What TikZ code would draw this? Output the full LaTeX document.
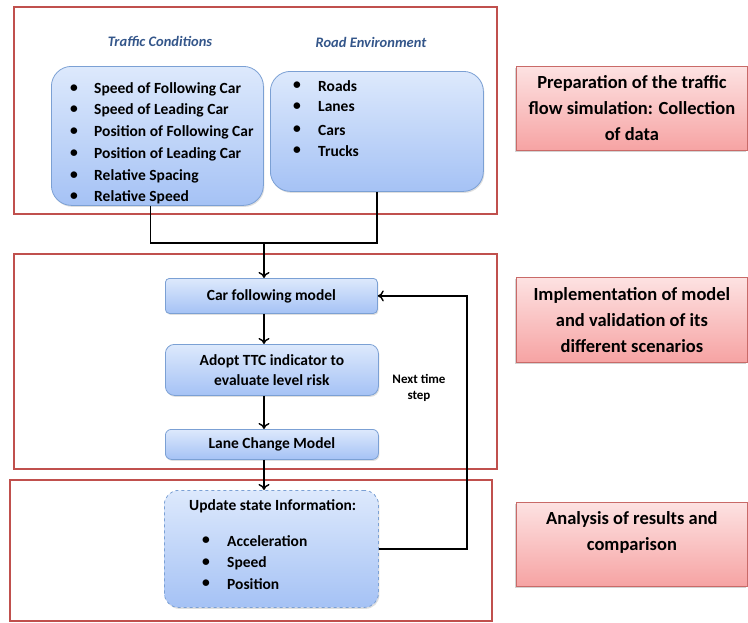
\documentclass[tikz,border=0pt]{standalone}
\usepackage{fontspec}
\setmainfont{Carlito}
\usetikzlibrary{arrows.meta,shadows}
\definecolor{framered}{HTML}{C0504D}
\definecolor{boxline}{HTML}{7BA0D4}
\definecolor{boxtop}{HTML}{DDE9FC}
\definecolor{boxbot}{HTML}{A5C2F5}
\definecolor{redtop}{HTML}{FDE2E2}
\definecolor{redbot}{HTML}{F6A3A3}
\definecolor{titleblue}{HTML}{34568A}
\begin{document}
\begin{tikzpicture}[x=1pt,y=-1pt,
  frame/.style={draw=framered,line width=1.5pt},
  bluebox/.style={draw=boxline,line width=0.8pt,top color=boxtop,bottom color=boxbot,
    anchor=north west,inner sep=0pt,drop shadow={shadow xshift=1pt,shadow yshift=-1.5pt,opacity=0.25}},
  redbox/.style={draw=framered!85,line width=0.8pt,top color=redtop,bottom color=redbot,
    anchor=north west,inner sep=0pt,align=center,font=\fontsize{18.5}{26}\selectfont\bfseries,
    drop shadow={shadow xshift=-1pt,shadow yshift=-2pt,opacity=0.35}},
  item/.style={anchor=west,inner sep=0pt,font=\fontsize{15.5}{17}\selectfont\bfseries},
  heading/.style={font=\fontsize{14.5}{16}\selectfont\bfseries\itshape,text=titleblue},
  flow/.style={line width=1.8pt,-{To[length=6pt,width=11pt,line width=1.4pt]}},
  link/.style={line width=1.8pt}]
\useasboundingbox (0,0) rectangle (748,622);
% stage frames
\draw[frame] (14,7) rectangle (497,214);
\draw[frame] (14,254) rectangle (497,469);
\draw[frame] (10,480) rectangle (492,621);
% stage labels
\node[redbox,minimum width=231pt,minimum height=84pt] (prep) at (516,66)
  {Preparation of the traffic\\flow simulation: Collection\\of data};
\node[redbox,minimum width=231pt,minimum height=85pt] (impl) at (516,277)
  {Implementation of model\\and validation of its\\different scenarios};
\node[redbox,minimum width=231pt,minimum height=84pt,text depth=26pt] (anal) at (516,502)
  {Analysis of results and\\comparison};
% input data
\node[heading] (tchead) at (160,41) {Traffic Conditions};
\node[heading] (rehead) at (371,42) {Road Environment};
\node[bluebox,rounded corners=20pt,minimum width=212pt,minimum height=139pt] (tc) at (51,66) {};
\node[bluebox,rounded corners=20pt,minimum width=213pt,minimum height=120pt] (re) at (270,71) {};
\foreach \i/\y/\t in {1/89/Speed of Following Car,2/110/Speed of Leading Car,
  3/132/Position of Following Car,4/154/Position of Leading Car,
  5/176/Relative Spacing,6/197/Relative Speed} {
  \node[item] (tcb\i) at (70,\y) {\textbullet};
  \node[item] (tc\i) at (94,\y) {\t};
}
\foreach \i/\y/\t in {1/86/Roads,2/107/Lanes,3/130/Cars,4/151/Trucks} {
  \node[item] (reb\i) at (293,\y) {\textbullet};
  \node[item] (re\i) at (318,\y) {\t};
}
% model
\node[bluebox,rounded corners=4pt,minimum width=212pt,minimum height=35pt] (cf) at (165,278) {};
\node[item,anchor=center] (cft) at (cf.center) {Car following model};
\node[bluebox,rounded corners=9pt,minimum width=213pt,minimum height=51pt,align=center,
  font=\fontsize{15.5}{20}\selectfont\bfseries] (ttc) at (165,344)
  {Adopt TTC indicator to\\evaluate level risk};
\node[bluebox,rounded corners=6pt,minimum width=213pt,minimum height=30pt,
  font=\fontsize{15.5}{17}\selectfont\bfseries] (lc) at (165,429) {Lane Change Model};
\node[bluebox,rounded corners=14pt,dashed,minimum width=214pt,minimum height=117pt] (upd) at (164,490) {};
\node[item] (updt) at (189,506) {Update state Information:};
\foreach \i/\y/\t in {1/541/Acceleration,2/563/Speed,3/584/Position} {
  \node[item] (updb\i) at (202,\y) {\textbullet};
  \node[item] (upd\i) at (227,\y) {\t};
}
\node[align=center,font=\fontsize{13}{16}\selectfont\bfseries] (next) at (419,388) {Next time\\step};
% connectors
\coordinate (spine) at (264,243);
\coordinate (ret) at (467,0);
\draw[link] ([xshift=-7pt]tc.south) |- (spine);
\draw[link] (re.south) |- (spine);
\draw[flow] (spine) -- (spine |- cf.north);
\draw[flow] (spine |- cf.south) -- (spine |- ttc.north);
\draw[flow] (spine |- ttc.south) -- (spine |- lc.north);
\draw[flow] (spine |- lc.south) -- (spine |- upd.north);
\draw[flow] (upd.east) -| (ret |- cf.east) -- (cf.east);
\end{tikzpicture}
\end{document}
